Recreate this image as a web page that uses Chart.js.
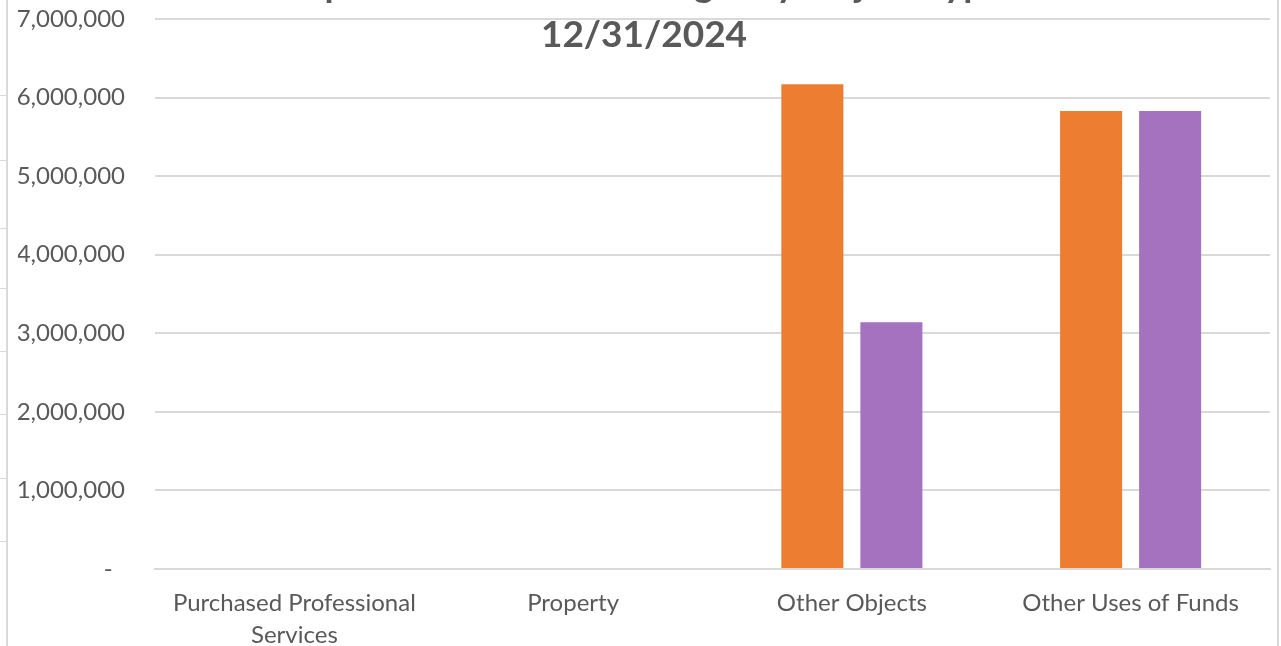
<!DOCTYPE html>
<html>
<head>
<meta charset="utf-8">
<script src="https://cdn.jsdelivr.net/npm/chart.js@4"></script>
<style>
  html, body { margin: 0; padding: 0; background: #fff; overflow: hidden; }
  #wrap { position: relative; width: 1281px; height: 646px; overflow: hidden; }
  #wrap canvas { position: absolute; left: 0; top: -40px; }
  .edge { position: absolute; background: #d9d9d9; }
</style>
</head>
<body>
<div id="wrap">
  <canvas id="objChart" width="1281" height="686"></canvas>
  <div class="edge" style="left:6px;top:0;width:2px;height:646px"></div>
  <div class="edge" style="left:1277px;top:0;width:2px;height:646px"></div>
  <div id="rows"></div>
</div>
<script>
const categories = [["Purchased Professional", "Services"], "Property", "Other Objects", "Other Uses of Funds"];
const budget   = [0, 0, 6170000, 5830000];
const expended = [0, 0, 3140000, 5830000];
const titleLines = ["Expenditures Versus Budget by Object Type", "12/31/2024"];

// spreadsheet row borders peeking out at the left edge
const rowLines = [95, 160, 228, 288, 351, 414, 478, 541];
rowLines.forEach(y => {
  const d = document.createElement("div");
  d.className = "edge";
  d.style.cssText = `left:0;top:${y}px;width:6px;height:1px`;
  document.getElementById("rows").appendChild(d);
});

const grey = "#595959";
const font = "Lato, 'Open Sans', sans-serif";

new Chart(document.getElementById("objChart"), {
  type: "bar",
  data: {
    labels: categories,
    datasets: [
      { label: "Budget", data: budget, backgroundColor: "#ED7D31" },
      { label: "Expended", data: expended, backgroundColor: "#A572C0" }
    ]
  },
  options: {
    responsive: false,
    animation: false,
    layout: { padding: { left: 18, right: 11, top: 0, bottom: 0 } },
    datasets: { bar: { categoryPercentage: 0.567, barPercentage: 0.785 } },
    plugins: {
      legend: { display: false },
      tooltip: { enabled: false },
      title: {
        display: true,
        text: titleLines,
        color: grey,
        font: { family: font, size: 37, weight: "bold", lineHeight: 1.35 },
        padding: { top: 0.5, bottom: -41.4 }
      }
    },
    scales: {
      x: {
        grid: { display: false, drawTicks: false },
        border: { display: true, color: "#d9d9d9", width: 2 },
        ticks: {
          color: grey,
          padding: 18,
          maxRotation: 0,
          autoSkip: false,
          font: { family: font, size: 24, lineHeight: 1.35 }
        },
        afterFit: s => { s.height = 77; }
      },
      y: {
        min: 0,
        max: 7000000,
        grid: { color: "#d9d9d9", lineWidth: 2, drawTicks: false },
        border: { display: false },
        ticks: {
          stepSize: 1000000,
          color: grey,
          padding: 30,
          font: { family: font, size: 24 },
          callback: v => v === 0 ? "-  " : v.toLocaleString("en-US")
        },
        afterFit: s => { s.width = 137; }
      }
    }
  }
});
</script>
</body>
</html>
